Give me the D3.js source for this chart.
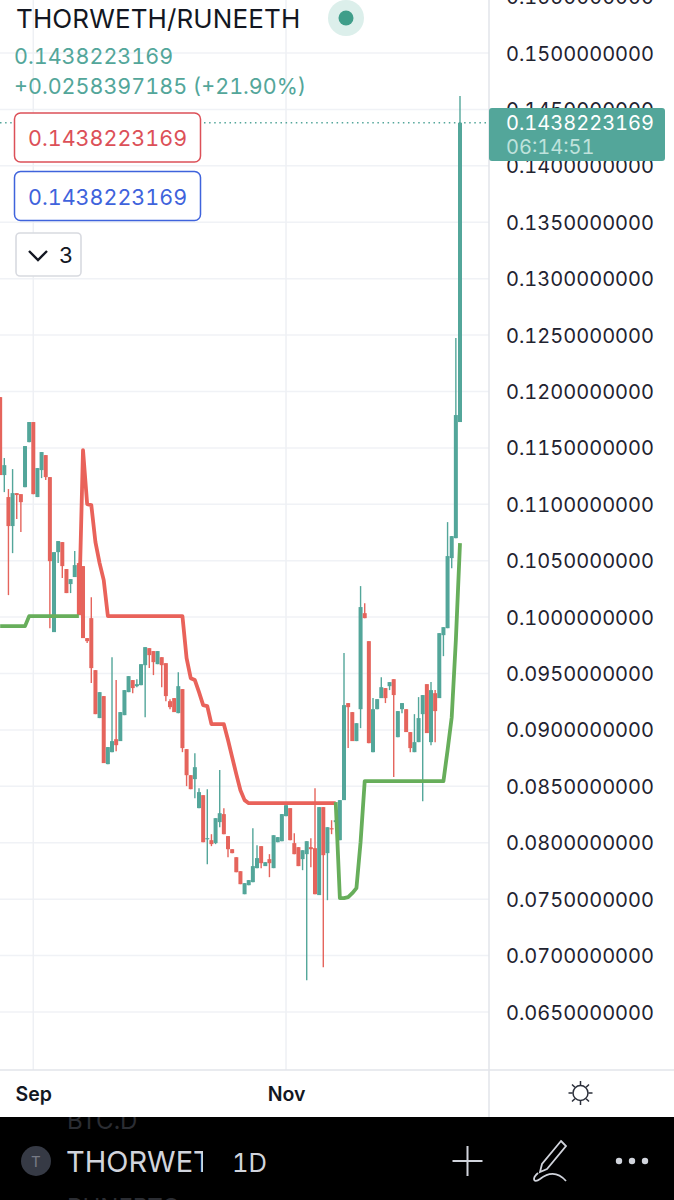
<!DOCTYPE html>
<html><head><meta charset="utf-8">
<script src="https://cdn.jsdelivr.net/npm/d3@7"></script>
<style>html,body{margin:0;padding:0;background:#fff;overflow:hidden}svg{display:block;font-family:Inter,"Noto Sans",sans-serif;font-variant-numeric:tabular-nums;font-feature-settings:"tnum" 1}</style>
</head><body><svg id="c" width="674" height="1200"></svg>
<script>
const firstDay = "2021-08-24";
const opens = [.11950,.11259,.11064,.10807,.11099,.11090,.11152,.11551,.11729,.11064,.11303,.11436,.11241,.09867,.10576,.10665,.10426,.10293,.10355,.10479,.10452,.09814,.09991,.09530,.09105,.09300,.08697,.08803,.08918,.08901,.09131,.09335,.09442,.09388,.09397,.09574,.09725,.09699,.09583,.09645,.09592,.09255,.09282,.09149,.09362,.08830,.08599,.08564,.08307,.08422,.08032,.08023,.07997,.08183,.08254,.08059,.07943,.07872,.07748,.07544,.07624,.07651,.07775,.07970,.07793,.07855,.07775,.08005,.08014,.08236,.08307,.07997,.07961,.07855,.07899,.07961,.07952,.07536,.08316,.07908,.08129,.08183,.08023,.08378,.09238,.09158,.08901,.09184,.10035,.09787,.08803,.09184,.09282,.09371,.09388,.09450,.08936,.09184,.09184,.08981,.08803,.08892,.09140,.09406,.08892,.09326,.09282,.09840,.09902,.10523,.10700,.11729];
const highs = [.11950,.11410,.11135,.11312,.11099,.11090,.11516,.11729,.11729,.11321,.11463,.11436,.11241,.10576,.10674,.10665,.10426,.10337,.10585,.10479,.10452,.09814,.10177,.09530,.09335,.09300,.08848,.09645,.09442,.09158,.09353,.09477,.09442,.09450,.09583,.09734,.09725,.09699,.09699,.09645,.09592,.09273,.09282,.09512,.09362,.08830,.08599,.08794,.08484,.08422,.08475,.08076,.08218,.08644,.08307,.08059,.07943,.07872,.07748,.07642,.07669,.08129,.07979,.07970,.07828,.07899,.08067,.08050,.08254,.08333,.08307,.08085,.07961,.07934,.08014,.08041,.08484,.08316,.08316,.08138,.08200,.08200,.08378,.09681,.09238,.09158,.09060,.10275,.10124,.09787,.09282,.09273,.09468,.09371,.09424,.09450,.09167,.09238,.09184,.08981,.09140,.09291,.09309,.09406,.09424,.09353,.09858,.09911,.10842,.10718,.12473,.14619];
const lows = [.11259,.11108,.10195,.10567,.10869,.10754,.11152,.11551,.11090,.11064,.11232,.11215,.09902,.09867,.10479,.10346,.10213,.10213,.10355,.10018,.09814,.09770,.09415,.09140,.09105,.08706,.08697,.08803,.08812,.08901,.09131,.09335,.09326,.09379,.09397,.09113,.09548,.09486,.09583,.09379,.09255,.09184,.09158,.09149,.08803,.08502,.08475,.08395,.08307,.08005,.07810,.07970,.07988,.08138,.08076,.07872,.07908,.07739,.07633,.07544,.07624,.07651,.07775,.07775,.07793,.07695,.07775,.08005,.08014,.08236,.08023,.07899,.07793,.07757,.06782,.07784,.07544,.07536,.06897,.07491,.08076,.08183,.08023,.08378,.08839,.08901,.08901,.09016,.09991,.08883,.08803,.09184,.09282,.09238,.09353,.08582,.08936,.09149,.08981,.08803,.08803,.08892,.08369,.08972,.08865,.08892,.09282,.09654,.09902,.10434,.10700,.11729];
const closes = [.11259,.11347,.10807,.11099,.11082,.11019,.11516,.11729,.11090,.11321,.11463,.11241,.10496,.10576,.10674,.10452,.10213,.10337,.10461,.10018,.09814,.09787,.09548,.09140,.09335,.08706,.08848,.08901,.08865,.09158,.09353,.09477,.09371,.09406,.09583,.09734,.09663,.09601,.09699,.09574,.09300,.09202,.09158,.09388,.08839,.08599,.08475,.08670,.08449,.08005,.08041,.07988,.08218,.08262,.08076,.07943,.07908,.07739,.07633,.07642,.07669,.07793,.07864,.07819,.07828,.07819,.08067,.08050,.08254,.08333,.08023,.07899,.07793,.07934,.08014,.07943,.07544,.08316,.07890,.08138,.08121,.08200,.08378,.09220,.09202,.08901,.09060,.10089,.09991,.08883,.09184,.09273,.09379,.09282,.09424,.09309,.09167,.09238,.08981,.08839,.08892,.09105,.09309,.08972,.09353,.09167,.09858,.09911,.10541,.10718,.11791,.14382];
const redStopStart = 19;
const redStop = [.10018,.11480,.11002,.10993,.10665,.10479,.10328,.10009,.10009,.10009,.10009,.10009,.10009,.10009,.10009,.10009,.10009,.10009,.10009,.10009,.10009,.10009,.10009,.10009,.10009,.10009,.09637,.09459,.09442,.09335,.09220,.09211,.09051,.09051,.09051,.09051,.08910,.08759,.08608,.08466,.08378,.08351,.08351,.08351,.08351,.08351,.08351,.08351,.08351,.08351,.08351,.08351,.08351,.08351,.08351,.08351,.08351,.08351,.08351,.08351,.08351,.08351,.08351];
const greenStopAStart = 0;
const greenStopA = [.09920,.09920,.09920,.09920,.09920,.09920,.09920,.10009,.10009,.10009,.10009,.10009,.10009,.10009,.10009,.10009,.10009,.10009,.10009,.10009];
const greenStopBStart = 81;
const greenStopB = [.08360,.07509,.07509,.07518,.07553,.07598,.08005,.08546,.08546,.08546,.08546,.08546,.08546,.08546,.08546,.08546,.08546,.08546,.08546,.08546,.08546,.08546,.08546,.08546,.08546,.08546,.08546,.08821,.09113,.09796,.10656];
const priceTicks = [.065,.07,.075,.08,.085,.09,.095,.1,.105,.11,.115,.12,.125,.13,.135,.14,.145,.15,.155];
const timeTicks = ["2021-09-01","2021-11-01"];
const lastPrice = 0.1438223169;
const titleText = "THORWETH/RUNEETH";
const changeText = "+0.0258397185 (+21.90%)";
const countdown = "06:14:51";

const TEAL="#53a69a",RED="#e5645c",LINE_RED="#e9625a",LINE_GREEN="#67ae5b";
const svg=d3.select("#c");
const day0=new Date(firstDay+"T00:00:00Z");
const dates=opens.map((_,i)=>d3.utcDay.offset(day0,i));
const parse=s=>new Date(s+"T00:00:00Z");
const x=d3.scaleUtc().domain([parse(timeTicks[0]),dates[dates.length-1]]).range([33.3,460]);
const y=d3.scaleLinear().domain([.065,.15]).range([1012,53]);
const PW=489,PH=1070;

svg.append("defs").append("clipPath").attr("id","plot").append("rect").attr("width",PW).attr("height",PH);
const plot=svg.append("g").attr("clip-path","url(#plot)");
// grid
plot.append("g").selectAll("line").data(priceTicks).join("line")
 .attr("x1",0).attr("x2",PW).attr("y1",d=>y(d)).attr("y2",d=>y(d)).attr("stroke","#f0f2f6").attr("stroke-width",1.5);
plot.append("g").selectAll("line").data(timeTicks).join("line")
 .attr("x1",d=>x(parse(d))).attr("x2",d=>x(parse(d))).attr("y1",0).attr("y2",PH).attr("stroke","#eef0f4").attr("stroke-width",1.5);
// candles
const idx=d3.range(opens.length);
const col=i=>closes[i]>=opens[i]?TEAL:RED;
plot.append("g").selectAll("line").data(idx).join("line")
 .attr("x1",i=>x(dates[i])).attr("x2",i=>x(dates[i])).attr("y1",i=>y(highs[i])).attr("y2",i=>y(lows[i]))
 .attr("stroke",col).attr("stroke-width",1.4);
plot.append("g").selectAll("rect").data(idx).join("rect")
 .attr("x",i=>x(dates[i])-2).attr("width",4)
 .attr("y",i=>y(Math.max(opens[i],closes[i])))
 .attr("height",i=>Math.max(1.2,Math.abs(y(opens[i])-y(closes[i]))))
 .attr("fill",col);
// stops
const line=d3.line().x(d=>x(d.t)).y(d=>y(d.v));
const seg=(arr,start)=>arr.map((v,i)=>({t:dates[start+i],v}));
const drawLine=(arr,start,c)=>plot.append("path").datum(seg(arr,start)).attr("d",line).attr("fill","none").attr("stroke",c).attr("stroke-width",3.8).attr("stroke-linejoin","round");
drawLine(redStop,redStopStart,LINE_RED);
drawLine(greenStopA,greenStopAStart,LINE_GREEN);
drawLine(greenStopB,greenStopBStart,LINE_GREEN);
// last price dotted
plot.append("line").attr("x1",0).attr("x2",PW).attr("y1",y(lastPrice)).attr("y2",y(lastPrice))
 .attr("stroke",TEAL).attr("stroke-width",1.5).attr("stroke-dasharray","1.5 3.6");

// axes
const yAxis=d3.axisRight(y).tickValues(priceTicks).tickFormat(d3.format(".10f")).tickSize(0).tickPadding(17);
const ga=svg.append("g").attr("transform",`translate(${PW},0)`).call(yAxis);
ga.select(".domain").remove();
ga.selectAll("text").attr("font-family","Inter").attr("font-size",20).attr("fill","#1f2330").attr("dy","0.35em");
const xAxis=d3.axisBottom(x).tickValues(timeTicks.map(parse)).tickFormat(d3.utcFormat("%b")).tickSize(0).tickPadding(17);
const gx=svg.append("g").attr("transform",`translate(0,${PH})`).call(xAxis);
gx.select(".domain").remove();
gx.selectAll("text").attr("font-family","Inter").attr("font-size",19.5).attr("font-weight",600).attr("fill","#131722").attr("dy","0.71em");
svg.append("line").attr("x1",PW).attr("x2",PW).attr("y1",0).attr("y2",1117).attr("stroke","#e2e4ea").attr("stroke-width",1.5);
svg.append("line").attr("x1",0).attr("x2",674).attr("y1",PH).attr("y2",PH).attr("stroke","#e2e4ea").attr("stroke-width",1.5);

// price label
svg.append("rect").attr("x",489).attr("y",108).attr("width",176).attr("height",53).attr("rx",3).attr("fill",TEAL);
const T=(s,px,py,size,fill,extra={})=>{const t=svg.append("text").attr("x",px).attr("y",py).attr("font-size",size).attr("fill",fill).text(s);for(const k in extra)t.attr(k,extra[k]);return t;};
T(d3.format(".10f")(lastPrice),506,130,20,"#fff");
T(countdown,506,154,20,"#bfe2dc");

// header
T(titleText,16,28,26,"#131722",{style:"letter-spacing:0.12px"});
svg.append("circle").attr("cx",346).attr("cy",18).attr("r",18).attr("fill","#dcefeb");
svg.append("circle").attr("cx",346).attr("cy",18).attr("r",7.5).attr("fill","#3f9e8a");
T(d3.format(".10f")(lastPrice),14,64,21.5,TEAL);
T(changeText,14,94,21.5,TEAL);
const box=(by,h,c)=>{svg.append("rect").attr("x",14.5).attr("y",by).attr("width",186).attr("height",h).attr("rx",6).attr("fill","#fff").attr("stroke",c).attr("stroke-width",1.5);
 T(d3.format(".10f")(lastPrice),28,by+33,21.5,c);};
box(113,49,"#dc5058");
box(171.5,49,"#3f63dc");
svg.append("rect").attr("x",16).attr("y",233).attr("width",65).attr("height",43).attr("rx",4).attr("fill","#fff").attr("stroke","#d8dae0").attr("stroke-width",1.6);
svg.append("path").attr("d","M29 251L38 260L47 251").attr("fill","none").attr("stroke","#131722").attr("stroke-width",2.4);
T("3",59,263,22,"#131722");

// sun icon
const sun=svg.append("g").attr("transform","translate(580.5,1093)").attr("fill","none").attr("stroke","#2a2e39").attr("stroke-width",1.5);
sun.append("circle").attr("r",7.5);
sun.selectAll("line").data(d3.range(8)).join("line").attr("x1",0).attr("y1",-8).attr("x2",0).attr("y2",-12).attr("transform",d=>`rotate(${d*45})`);

// bottom bar
svg.append("rect").attr("x",0).attr("y",1117).attr("width",674).attr("height",83).attr("fill","#000");
svg.append("defs").append("clipPath").attr("id","bar").append("rect").attr("y",1117).attr("width",674).attr("height",83);
const bar=svg.append("g").attr("clip-path","url(#bar)");
bar.append("text").attr("x",67).attr("y",1129).attr("font-size",24).attr("fill","#2b2d33").text("BTC.D");
bar.append("text").attr("x",67).attr("y",1216).attr("font-size",24).attr("fill","#2b2d33").text("RUNEBTC");
svg.append("circle").attr("cx",36).attr("cy",1161).attr("r",15).attr("fill","#363a45");
T("T",31,1167,15,"#787b86");
svg.append("defs").append("clipPath").attr("id","nm").append("rect").attr("x",60).attr("y",1120).attr("width",143).attr("height",80);
svg.append("text").attr("clip-path","url(#nm)").attr("x",66).attr("y",1172).attr("font-size",29).attr("fill","#d1d4dc").text("THORWETH");
T("1D",232,1172,25.5,"#d1d4dc");
svg.append("path").attr("d","M467.5 1146V1176M452.5 1161H482.5").attr("stroke","#d1d4dc").attr("stroke-width",2).attr("fill","none");
svg.append("path").attr("d","M561 1141L566 1146L547 1169L540 1172L542 1164ZM538 1173C532 1178 533 1184 540 1179C549 1172 558 1172 566 1181").attr("fill","none").attr("stroke","#d1d4dc").attr("stroke-width",1.8);
svg.append("g").selectAll("circle").data([619,632,645]).join("circle").attr("cx",d=>d).attr("cy",1161).attr("r",3.2).attr("fill","#d1d4dc");
</script></body></html>
